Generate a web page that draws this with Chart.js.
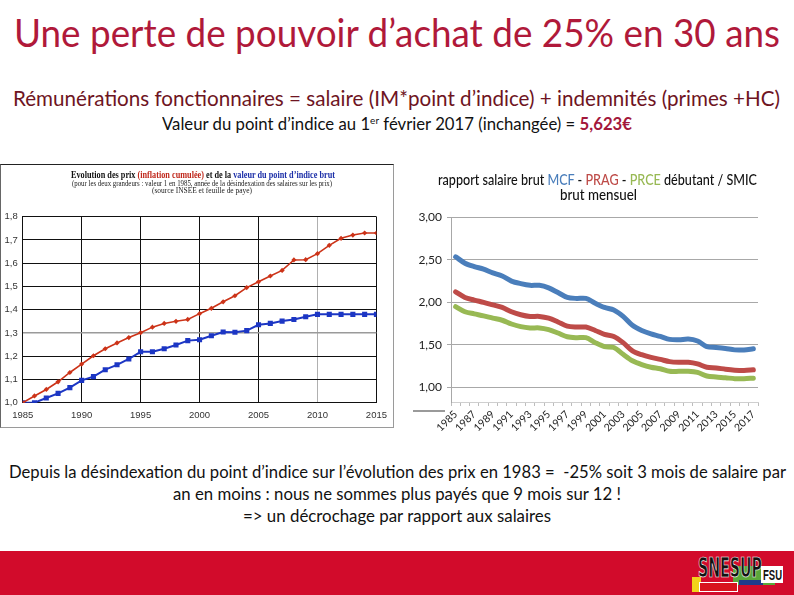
<!DOCTYPE html>
<html><head><meta charset="utf-8">
<script src="https://cdn.jsdelivr.net/npm/chart.js@4"></script>
<style>
html,body{margin:0;padding:0;background:#fff;}
body{width:794px;height:595px;position:relative;overflow:hidden;font-family:Lato,'Open Sans',sans-serif;}
.t{position:absolute;white-space:nowrap;line-height:1.2;font-size:20px;transform-origin:0 0;}
#leftBox{position:absolute;left:0;top:164px;width:394px;height:264px;box-sizing:border-box;border-top:1px solid #222;border-right:1px solid #9a9a9a;border-left:1px solid #666;border-bottom:1px solid #9a9a9a;}
#cL{position:absolute;left:0;top:164px;}
#cR{position:absolute;left:410px;top:205px;}
.serif{font-family:'Liberation Serif','DejaVu Serif',serif;}
#footer{position:absolute;left:0;top:551px;width:794px;height:44px;background:#d20b2b;}
.blk{position:absolute;}
</style>
</head><body>

<div class="t" data-cx="397" data-by="47" data-w="766" data-fs="38" style="color:#b0193a;">Une perte de pouvoir d’achat de 25% en 30 ans</div>
<div class="t" data-cx="396.5" data-by="106" data-w="767" data-fs="21" style="color:#6e1422;">Rémunérations fonctionnaires = salaire (IM*point d’indice) + indemnités (primes +HC)</div>
<div class="t" data-cx="397" data-by="130" data-w="470" data-fs="16.5" style="color:#111;">Valeur du point d’indice au 1<sup style="font-size:0.6em;line-height:0;">er</sup> février 2017 (inchangée) = <b style="color:#a3173b;">5,623€</b></div>

<div id="leftBox"></div>
<canvas id="cL" width="394" height="264"></canvas>
<div class="t serif" data-cx="203" data-by="178" data-w="264" data-fs="9.5" style="font-weight:bold;color:#111;">Evolution des prix <span style="color:#c0281c;">(inflation cumulée)</span> et de la <span style="color:#1c2fa8;">valeur du point d’indice brut</span></div>
<div class="t serif" data-cx="202" data-by="186" data-w="260" data-fs="8" style="color:#222;">(pour les deux grandeurs : valeur 1 en 1985, année de la désindexation des salaires sur les prix)</div>
<div class="t serif" data-cx="202" data-by="193" data-w="100" data-fs="8" style="color:#222;">(source INSEE et feuille de paye)</div>

<canvas id="cR" width="360" height="235"></canvas>
<div class="t" data-cx="597.5" data-by="185" data-w="319" data-fs="14.5" style="color:#111;font-weight:500;">rapport salaire brut <span style="color:#4a7ebb;">MCF</span> - <span style="color:#be4b48;">PRAG</span> - <span style="color:#98b954;">PRCE</span> débutant / SMIC</div>
<div class="t" data-cx="598" data-by="200" data-w="77" data-fs="14.5" style="color:#111;font-weight:500;">brut mensuel</div>
<div class="blk" style="left:413px;top:410px;width:32px;height:2px;background:#9a9a9a;"></div>

<div class="t" data-cx="397" data-by="478" data-w="777" data-fs="18" style="color:#111;">Depuis la désindexation du point d’indice sur l’évolution des prix en 1983 =&nbsp; -25% soit 3 mois de salaire par</div>
<div class="t" data-cx="397" data-by="500" data-w="448" data-fs="18" style="color:#111;">an en moins : nous ne sommes plus payés que 9 mois sur 12 !</div>
<div class="t" data-cx="397" data-by="522" data-w="308" data-fs="18" style="color:#111;">=&gt; un décrochage par rapport aux salaires</div>

<div id="footer"></div>
<div class="blk" style="left:692px;top:577px;width:9px;height:15px;background:#f2d21a;"></div>
<div class="blk" style="left:733px;top:566px;width:42px;height:19px;background:#5aa83a;"></div>
<div class="blk" style="left:699px;top:582px;width:37px;height:8px;background:#d8141e;border:1px solid #fff;"></div>
<div class="blk" style="left:739px;top:580px;width:24px;height:5px;background:#1f3b8c;"></div>
<div class="t" data-cx="730" data-by="577" data-w="64" data-fs="26" style="font-family:'Liberation Sans Narrow','DejaVu Sans Condensed',sans-serif;font-weight:bold;color:#111;-webkit-text-stroke:0.7px #fff;line-height:1;">SNESUP</div>
<div class="blk" style="left:761px;top:566px;width:22px;height:17px;background:#fff;"></div>
<div class="t" data-cx="772" data-by="580" data-w="19" data-fs="14" style="font-family:'Liberation Sans Narrow',sans-serif;font-weight:bold;color:#111;line-height:1;">FSU</div>

<script>
// ---- Left chart data ----
const yearsL = [1985,1986,1987,1988,1989,1990,1991,1992,1993,1994,1995,1996,1997,1998,1999,2000,2001,2002,2003,2004,2005,2006,2007,2008,2009,2010,2011,2012,2013,2014,2015];
const inflation = [1.000,1.029,1.057,1.090,1.130,1.166,1.202,1.232,1.257,1.280,1.301,1.325,1.341,1.350,1.358,1.383,1.406,1.434,1.460,1.495,1.520,1.545,1.569,1.614,1.615,1.641,1.677,1.707,1.721,1.730,1.730];
const pointIndice = [1.000,1.000,1.020,1.040,1.065,1.096,1.112,1.142,1.163,1.188,1.219,1.219,1.232,1.248,1.267,1.271,1.288,1.304,1.303,1.310,1.335,1.341,1.351,1.358,1.370,1.380,1.380,1.380,1.380,1.380,1.380];

// ---- Right chart data ----
const yearsR = [1985,1986,1987,1988,1989,1990,1991,1992,1993,1994,1995,1996,1997,1998,1999,2000,2001,2002,2003,2004,2005,2006,2007,2008,2009,2010,2011,2012,2013,2014,2015,2016,2017];
const mcf  = [2.535,2.46,2.42,2.39,2.346,2.31,2.25,2.22,2.20,2.20,2.17,2.115,2.058,2.046,2.046,1.99,1.94,1.91,1.835,1.73,1.67,1.63,1.60,1.565,1.56,1.57,1.546,1.48,1.47,1.458,1.442,1.442,1.454];
const prag = [2.123,2.058,2.027,2.0,1.97,1.94,1.89,1.855,1.835,1.835,1.815,1.77,1.72,1.71,1.71,1.67,1.623,1.60,1.527,1.43,1.385,1.354,1.33,1.304,1.296,1.296,1.277,1.238,1.23,1.215,1.204,1.2,1.208];
const prce = [1.95,1.89,1.865,1.842,1.815,1.79,1.746,1.715,1.70,1.70,1.68,1.64,1.596,1.585,1.585,1.527,1.48,1.47,1.39,1.315,1.27,1.238,1.22,1.19,1.19,1.19,1.177,1.135,1.123,1.115,1.104,1.104,1.11];
const yTicksR = [1.0,1.5,2.0,2.5,3.0];

// ---- text placement: font size from height, horizontal scale to the measured width ----
function fitTexts(){
  document.querySelectorAll('.t').forEach(el=>{
    const w=+el.dataset.w, cx=+el.dataset.cx, by=+el.dataset.by, fs=+el.dataset.fs;
    el.style.fontSize=fs+'px';
    const mw=el.getBoundingClientRect().width;
    const m=document.createElement('span');
    m.style.cssText='display:inline-block;width:0;height:0;vertical-align:baseline;';
    el.appendChild(m);
    const off=m.offsetTop;
    el.style.transform='scaleX('+(w/mw)+')';
    el.style.left=(cx-w/2)+'px';
    el.style.top=(by-off)+'px';
  });
}
fitTexts();

// ---- Left chart ----
new Chart(document.getElementById('cL'),{
  type:'line',
  data:{datasets:[
    {label:'inflation',data:yearsL.map((y,i)=>({x:y,y:inflation[i]})),borderColor:'#cc3318',backgroundColor:'#cc3318',borderWidth:1.6,pointStyle:'rectRot',pointRadius:2.6,pointBorderWidth:0},
    {label:'point',data:yearsL.map((y,i)=>({x:y,y:pointIndice[i]})),borderColor:'#1c36c4',backgroundColor:'#1c36c4',borderWidth:2,pointStyle:'rect',pointRadius:3.6,pointBorderWidth:0}
  ]},
  options:{
    responsive:false,animation:false,
    layout:{padding:{left:0,top:52.7,right:17.3,bottom:0}},
    plugins:{legend:{display:false},tooltip:{enabled:false}},
    scales:{
      x:{type:'linear',min:1985,max:2015,
        ticks:{stepSize:5,maxRotation:0,color:'#333',font:{family:'Liberation Sans',size:9.5},padding:7,callback:v=>String(v)},
        grid:{drawTicks:false,color:c=>(c.tick&&c.tick.value===2010)?'#b0b0b0':'#111',lineWidth:1},
        border:{color:'#111'},
        afterFit(s){s.height=25.3;}},
      y:{min:1,max:1.8,
        ticks:{stepSize:0.1,color:'#333',font:{family:'Liberation Sans',size:9.5},padding:5,callback:v=>v.toFixed(1).replace('.',',')},
        grid:{drawTicks:false,color:c=>(c.tick&&Math.abs(c.tick.value-1.3)<1e-6)?'#9a9a9a':'#111',lineWidth:c=>(c.tick&&Math.abs(c.tick.value-1.3)<1e-6)?1.5:1},
        border:{color:'#111'},
        afterFit(s){s.width=22.7;}}
    }
  }
});

// ---- Right chart ----
new Chart(document.getElementById('cR'),{
  type:'line',
  data:{labels:yearsR.map(String),datasets:[
    {label:'MCF',data:mcf,borderColor:'#4a7ebb',borderWidth:5,pointRadius:0,tension:0.3,borderCapStyle:'round'},
    {label:'PRAG',data:prag,borderColor:'#be4b48',borderWidth:5,pointRadius:0,tension:0.3,borderCapStyle:'round'},
    {label:'PRCE',data:prce,borderColor:'#98b954',borderWidth:5,pointRadius:0,tension:0.3,borderCapStyle:'round'}
  ]},
  options:{
    responsive:false,animation:false,
    layout:{padding:{left:0,top:9,right:12,bottom:0}},
    plugins:{legend:{display:false},tooltip:{enabled:false}},
    scales:{
      x:{type:'category',offset:true,
        ticks:{autoSkip:false,minRotation:45,maxRotation:45,color:'#222',font:{family:'Lato',size:10.5},padding:2,
          callback:(v,i)=>(i%2===0)?String(yearsR[i]):''},
        grid:{offset:true,drawOnChartArea:false,drawTicks:true,tickLength:4,color:'#bdbdbd'},
        border:{color:'#cfcfcf'},
        afterFit(s){s.height=38;}},
      y:{min:0.83,max:3,
        afterBuildTicks(s){s.ticks=yTicksR.map(v=>({value:v}));},
        ticks:{color:'#222',font:{family:'Lato',size:12},padding:5,callback:v=>Number(v).toFixed(2).replace('.',',')},
        grid:{color:'#a8a8a8',drawTicks:true,tickLength:4},
        border:{color:'#a8a8a8'},
        afterFit(s){s.width=41;}}
    }
  }
});
</script>
</body></html>
